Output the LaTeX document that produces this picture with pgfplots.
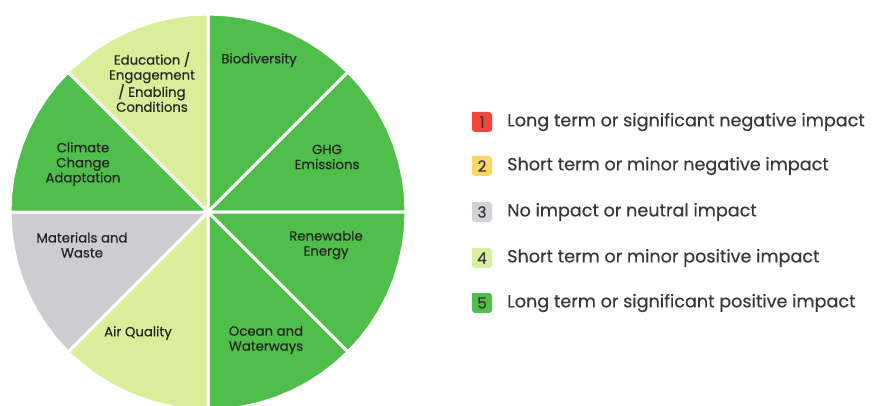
\documentclass[border=0pt]{standalone}
\usepackage{pgfplots}
\pgfplotsset{compat=1.18}
\usepackage{fontspec}
\setmainfont{Poppins}
\newfontfamily\pmed{Poppins}[BoldFont=Poppins, BoldFeatures={FakeBold=0.4}]
\definecolor{cgreen}{RGB}{80,190,75}
\definecolor{clight}{RGB}{216,238,152}
\definecolor{cgray}{RGB}{205,204,209}
\definecolor{cred}{RGB}{240,70,60}
\definecolor{cyellow}{RGB}{253,215,106}
\definecolor{lgray}{RGB}{211,210,214}
\definecolor{lgreen}{RGB}{217,240,160}
\definecolor{ltext}{RGB}{55,55,55}
\definecolor{ptext}{RGB}{35,35,35}
\begin{document}
\begin{tikzpicture}
\begin{axis}[
  scale only axis, width=875pt, height=405pt,
  xmin=-208, xmax=667, ymin=-193, ymax=212,
  enlargelimits=false, hide axis, clip=true,
]
\addplot[draw=none] coordinates {(-208,-193) (667,212)};
% pie sectors: (angle, radius)
\addplot[fill=cgreen, draw=white, line width=3pt, line join=round, data cs=polar] coordinates {(0,0) (45,198) (50,198) (55,198) (60,198) (65,198) (70,198) (75,198) (80,198) (85,198) (90,198) (0,0)};
\addplot[fill=cgreen, draw=white, line width=3pt, line join=round, data cs=polar] coordinates {(0,0) (0,198) (5,198) (10,198) (15,198) (20,198) (25,198) (30,198) (35,198) (40,198) (45,198) (0,0)};
\addplot[fill=cgreen, draw=white, line width=3pt, line join=round, data cs=polar] coordinates {(0,0) (-45,198) (-40,198) (-35,198) (-30,198) (-25,198) (-20,198) (-15,198) (-10,198) (-5,198) (0,198) (0,0)};
\addplot[fill=cgreen, draw=white, line width=3pt, line join=round, data cs=polar] coordinates {(0,0) (-90,198) (-85,198) (-80,198) (-75,198) (-70,198) (-65,198) (-60,198) (-55,198) (-50,198) (-45,198) (0,0)};
\addplot[fill=clight, draw=white, line width=3pt, line join=round, data cs=polar] coordinates {(0,0) (-135,198) (-130,198) (-125,198) (-120,198) (-115,198) (-110,198) (-105,198) (-100,198) (-95,198) (-90,198) (0,0)};
\addplot[fill=cgray, draw=white, line width=3pt, line join=round, data cs=polar] coordinates {(0,0) (-180,198) (-175,198) (-170,198) (-165,198) (-160,198) (-155,198) (-150,198) (-145,198) (-140,198) (-135,198) (0,0)};
\addplot[fill=cgreen, draw=white, line width=3pt, line join=round, data cs=polar] coordinates {(0,0) (135,198) (140,198) (145,198) (150,198) (155,198) (160,198) (165,198) (170,198) (175,198) (180,198) (0,0)};
\addplot[fill=clight, draw=white, line width=3pt, line join=round, data cs=polar] coordinates {(0,0) (90,198) (95,198) (100,198) (105,198) (110,198) (115,198) (120,198) (125,198) (130,198) (135,198) (0,0)};
% sector labels
\tikzset{plab/.style={align=center, font=\pmed\bfseries\fontsize{13.3}{15}\selectfont, text=ptext, inner sep=0pt}}
\node[plab] at (axis cs:51,152) {Biodiversity};
\node[plab] at (axis cs:119,55) {GHG\\Emissions};
\node[plab] at (axis cs:118,-33) {Renewable\\Energy};
\node[plab] at (axis cs:58,-128) {Ocean and\\Waterways};
\node[plab] at (axis cs:-70,-121) {Air Quality};
\node[plab] at (axis cs:-126,-33) {Materials and\\Waste};
\node[plab] at (axis cs:-125,48) {Climate\\Change\\Adaptation};
\node[plab] at (axis cs:-56,130) {Education /\\Engagement\\/ Enabling\\Conditions};
% legend squares
\addplot[fill=cred, draw=none, rounded corners=3pt] coordinates {(264,100) (284,100) (284,80) (264,80) (264,100)};
\addplot[fill=cyellow, draw=none, rounded corners=3pt] coordinates {(264,56) (284,56) (284,36) (264,36) (264,56)};
\addplot[fill=lgray, draw=none, rounded corners=3pt] coordinates {(264,10) (284,10) (284,-10) (264,-10) (264,10)};
\addplot[fill=lgreen, draw=none, rounded corners=3pt] coordinates {(264,-36) (284,-36) (284,-56) (264,-56) (264,-36)};
\addplot[fill=cgreen, draw=none, rounded corners=3pt] coordinates {(264,-81) (284,-81) (284,-101) (264,-101) (264,-81)};
\tikzset{lnum/.style={font=\pmed\bfseries\fontsize{15.5}{17}\selectfont, text=ltext, inner sep=0pt},
         ltxt/.style={anchor=west, font=\pmed\bfseries\fontsize{17.6}{20}\selectfont, text=ltext, inner sep=0pt}}
\node[lnum] at (axis cs:274,90) {1};
\node[lnum] at (axis cs:274,46) {2};
\node[lnum] at (axis cs:274,0) {3};
\node[lnum] at (axis cs:274,-46) {4};
\node[lnum] at (axis cs:274,-91) {5};
\node[ltxt] at (axis cs:299,90) {Long term or significant negative impact};
\node[ltxt] at (axis cs:299,46) {Short term or minor negative impact};
\node[ltxt] at (axis cs:299,0) {No impact or neutral impact};
\node[ltxt] at (axis cs:299,-46) {Short term or minor positive impact};
\node[ltxt] at (axis cs:299,-91) {Long term or significant positive impact};
\end{axis}
\end{tikzpicture}
\end{document}
